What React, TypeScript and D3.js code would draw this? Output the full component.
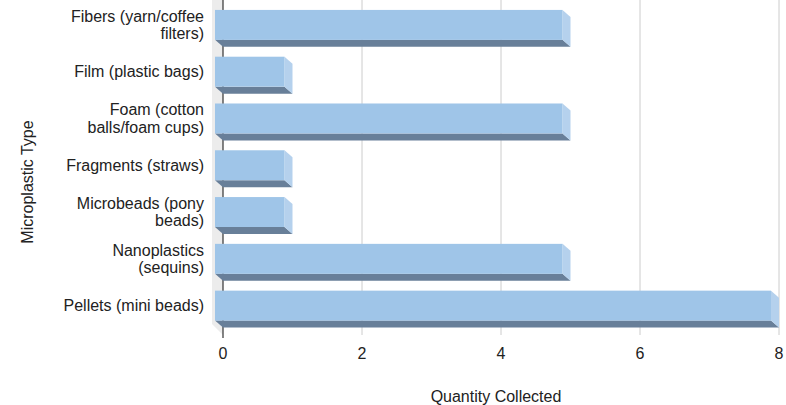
import React from "react";
import * as d3 from "d3";

const categories = [
  "Fibers (yarn/coffee filters)",
  "Film (plastic bags)",
  "Foam (cotton balls/foam cups)",
  "Fragments (straws)",
  "Microbeads (pony beads)",
  "Nanoplastics (sequins)",
  "Pellets (mini beads)",
];
const labelLines = [
  ["Fibers (yarn/coffee", "filters)"],
  ["Film (plastic bags)"],
  ["Foam (cotton", "balls/foam cups)"],
  ["Fragments (straws)"],
  ["Microbeads (pony", "beads)"],
  ["Nanoplastics", "(sequins)"],
  ["Pellets (mini beads)"],
];
const values = [5, 1, 5, 1, 1, 5, 8];
const xTicks = [0, 2, 4, 6, 8];

const W = 786;
const H = 405;
const DX = 8;
const DY = 7;

export default function App() {
  const x = d3.scaleLinear().domain([0, 8]).range([223, 779]);
  const y = d3
    .scaleBand<string>()
    .domain(categories)
    .range([1.5, 329])
    .paddingInner(0.36)
    .paddingOuter(0.18);
  const backTop = 0;
  const backBottom = 335;
  const font = "'Liberation Sans', Arial, sans-serif";
  const fs = 16;
  const front = "#9fc5e8";
  const side = "#b5d1ed";
  const bottom = "#687f99";

  return (
    <svg
      width={W}
      height={H}
      style={{ position: "absolute", left: 0, top: 0, background: "#fff" }}
      fontFamily={font}
    >
      {/* left wall */}
      <polygon
        points={`212,${backTop} ${x(0)},${backTop} ${x(0)},${backBottom} 212,${backBottom - 11}`}
        fill="#ececec"
      />
      {/* gridlines */}
      {xTicks.slice(1).map((t) => (
        <line key={t} x1={x(t)} x2={x(t)} y1={backTop} y2={backBottom} stroke="#cccccc" strokeWidth={1} />
      ))}
      {/* axis line */}
      <line x1={x(0)} x2={x(0)} y1={backTop} y2={backBottom + 3} stroke="#333" strokeWidth={1.2} />
      {/* bars */}
      {categories.map((c, i) => {
        const x0 = x(0) - DX;
        const x1 = x(values[i]) - DX;
        const y0 = y(c)!;
        const h = y.bandwidth();
        const y1 = y0 + h;
        return (
          <g key={c}>
            <polygon
              points={`${x0},${y1} ${x1},${y1} ${x1 + DX},${y1 + DY} ${x0 + DX},${y1 + DY}`}
              fill={bottom}
            />
            <polygon
              points={`${x1},${y0} ${x1 + DX},${y0 + DY} ${x1 + DX},${y1 + DY} ${x1},${y1}`}
              fill={side}
            />
            <rect x={x0} y={y0} width={x1 - x0} height={h} fill={front} />
          </g>
        );
      })}
      {/* category labels */}
      {categories.map((c, i) => {
        const lines = labelLines[i];
        const cy = y(c)! + y.bandwidth() / 2;
        const lh = 17.5;
        const start = cy - ((lines.length - 1) * lh) / 2;
        return (
          <text key={c} textAnchor="end" fontSize={fs} fill="#222">
            {lines.map((l, j) => (
              <tspan key={j} x={204} y={start + j * lh} dy="0.35em">
                {l}
              </tspan>
            ))}
          </text>
        );
      })}
      {/* x tick labels */}
      {xTicks.map((t) => (
        <text key={t} x={x(t)} y={359} textAnchor="middle" fontSize={fs} fill="#222">
          {t}
        </text>
      ))}
      {/* axis titles */}
      <text x={496} y={402} textAnchor="middle" fontSize={fs} fill="#222">
        Quantity Collected
      </text>
      <text
        transform={`translate(33,182) rotate(-90)`}
        textAnchor="middle"
        fontSize={fs}
        fill="#222"
      >
        Microplastic Type
      </text>
    </svg>
  );
}
